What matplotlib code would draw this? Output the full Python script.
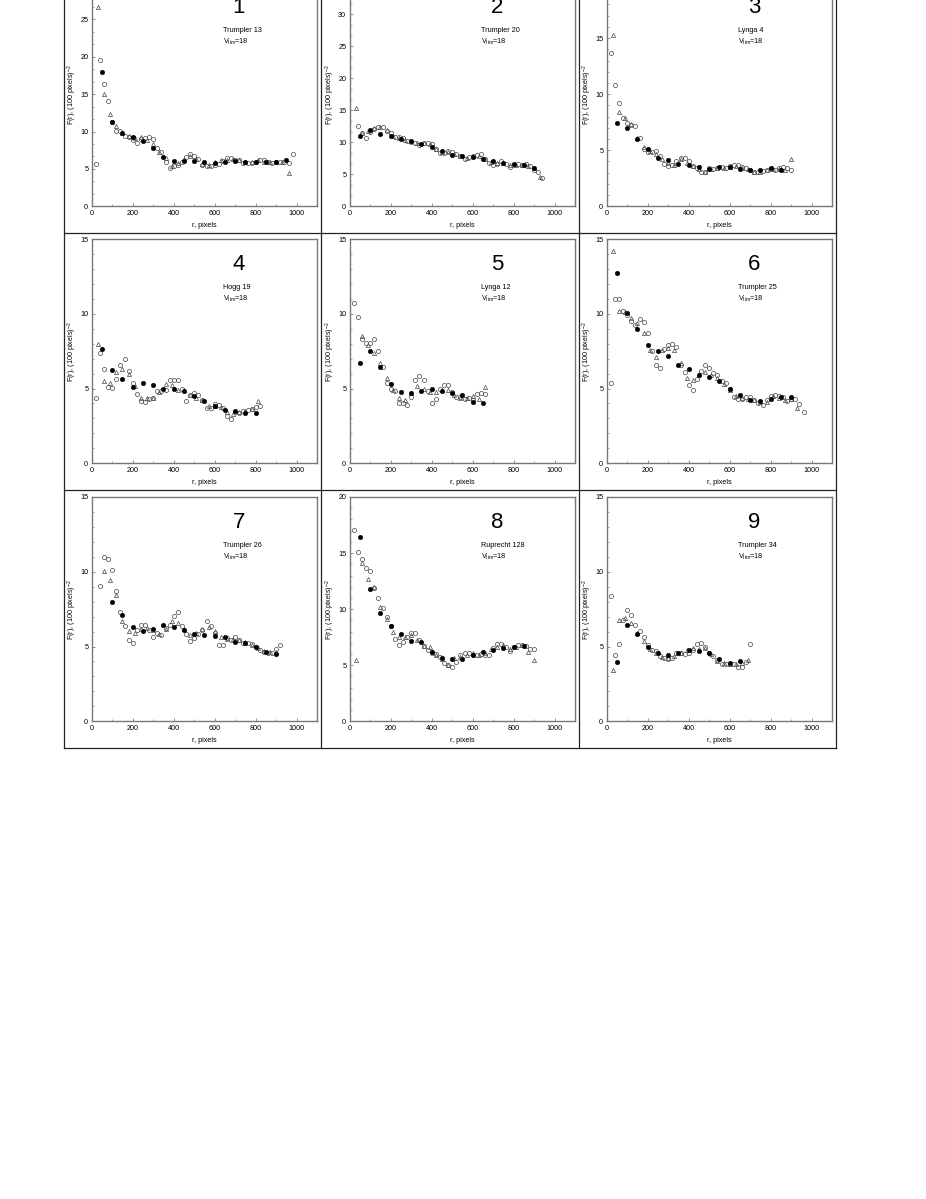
import matplotlib
matplotlib.use("Agg")
import matplotlib.pyplot as plt
from matplotlib.ticker import MultipleLocator, AutoMinorLocator
from matplotlib.lines import Line2D

plt.rcParams['font.family'] = ['Liberation Sans', 'DejaVu Sans']
plt.rcParams['mathtext.default'] = 'regular'

# ---------------- data ----------------
names = ["Trumpler 13", "Trumpler 20", "Lynga 4", "Hogg 19", "Lynga 12",
         "Trumpler 25", "Trumpler 26", "Ruprecht 128", "Trumpler 34"]
panel_numbers = ["1", "2", "3", "4", "5", "6", "7", "8", "9"]
y_max = [30, 35, 20, 15, 15, 15, 15, 20, 15]
vlim_text = "V$_{lim}$=18"

# Panel 1 - Trumpler 13
p1_filled_r = [50, 100, 150, 200, 250, 300, 350, 400, 450, 500, 550, 600, 650, 700, 750, 800, 850, 900, 950]
p1_filled_f = [17.9, 11.25, 9.8, 9.25, 8.8, 7.75, 6.65, 6.0, 6.05, 6.1, 5.9, 5.8, 5.92, 6.1, 5.96, 5.92, 5.92, 5.87, 6.18]
p1_open_r = [20, 40, 60, 80, 100, 120, 140, 160, 180, 200, 220, 240, 260, 280, 300, 320, 340, 360, 380, 400,
             420, 440, 460, 480, 500, 520, 540, 560, 580, 600, 620, 640, 660, 680, 700, 720, 740, 760, 780, 800,
             820, 840, 860, 880, 900, 920, 940, 960, 980]
p1_open_f = [5.7, 19.6, 16.3, 14.06, 11.3, 10.05, 10.05, 9.34, 9.25, 8.9,
             8.45, 9.0, 9.07, 9.25, 9.0, 7.83, 7.2, 5.87, 5.16, 5.34,
             5.52, 5.96, 6.58, 7.03, 6.76, 6.32, 5.52, 5.34, 5.34, 5.52,
             5.7, 6.05, 6.4, 6.5, 6.23, 6.14, 5.78, 5.78, 5.78, 5.96,
             6.23, 6.14, 5.96, 5.78, 5.87, 5.87, 5.96, 5.78, 6.94]
p1_tri_r = [30, 60, 90, 120, 150, 180, 210, 240, 270, 300, 330, 360, 390, 420, 450, 480, 510, 540, 570, 600,
            630, 660, 690, 720, 750, 780, 810, 840, 870, 900, 930, 960]
p1_tri_f = [26.7, 15.0, 12.37, 10.77, 9.79, 9.34, 9.07, 9.25, 8.9, 8.27,
            7.2, 6.5, 5.34, 5.78, 6.32, 6.76, 6.32, 5.7, 5.52, 5.87,
            6.14, 6.14, 6.32, 6.14, 5.96, 5.96, 6.23, 5.96, 5.96, 5.87, 5.87, 4.45]

# Panel 2 - Trumpler 20
p2_filled_r = [50, 100, 150, 200, 250, 300, 350, 400, 450, 500, 550, 600, 650, 700, 750, 800, 850, 900]
p2_filled_f = [11.0, 11.9, 11.3, 11.0, 10.45, 10.2, 9.78, 9.26, 8.64, 8.0, 7.86, 7.66, 7.45, 7.04, 6.73, 6.62, 6.4, 6.0]
p2_open_r = [40, 60, 80, 100, 120, 140, 160, 180, 200, 220, 240, 260, 280, 300, 320, 340, 360, 380, 400,
             420, 440, 460, 480, 500, 520, 540, 560, 580, 600, 620, 640, 660, 680, 700, 720, 740, 760, 780, 800,
             820, 840, 860, 880, 900, 920, 940]
p2_open_f = [12.6, 11.4, 10.6, 11.6, 12.0, 12.4, 12.3, 11.7, 11.4,
             10.76, 10.76, 10.6, 10.24, 10.1, 9.93, 9.6, 9.83, 9.83, 9.73,
             8.95, 8.28, 8.38, 8.59, 8.48, 8.12, 7.86, 7.45, 7.76, 7.86,
             7.97, 8.17, 7.35, 6.73, 6.52, 6.62, 7.14, 6.62, 6.1, 6.4,
             6.62, 6.47, 6.62, 6.26, 5.69, 5.33, 4.45]
p2_tri_r = [30, 60, 90, 120, 150, 180, 210, 240, 270, 300, 330, 360, 390, 420, 450, 480, 510, 540, 570, 600,
            630, 660, 690, 720, 750, 780, 810, 840, 870, 900, 930]
p2_tri_f = [15.3, 11.5, 11.7, 12.2, 12.3, 11.9, 11.0, 10.6, 10.4, 10.2,
            9.8, 9.8, 9.7, 9.0, 8.5, 8.5, 8.2, 7.8, 7.6, 7.8,
            7.9, 7.4, 6.9, 6.8, 6.8, 6.5, 6.5, 6.5, 6.3, 5.9, 4.6]

# Panel 3 - Lynga 4
p3_filled_r = [50, 100, 150, 200, 250, 300, 350, 400, 450, 500, 550, 600, 650, 700, 750, 800, 850]
p3_filled_f = [7.47, 6.94, 5.99, 5.13, 4.33, 4.09, 3.8, 3.68, 3.47, 3.35, 3.47, 3.53, 3.35, 3.26, 3.2, 3.38, 3.23]
p3_open_r = [20, 40, 60, 80, 100, 120, 140, 160, 180, 200, 220, 240, 260, 280, 300, 320, 340, 360, 380, 400,
             420, 440, 460, 480, 500, 520, 540, 560, 580, 600, 620, 640, 660, 680, 700, 720, 740, 760, 780, 800,
             820, 840, 860, 880, 900]
p3_open_f = [13.7, 10.8, 9.25, 7.9, 7.41, 7.29, 7.17, 6.05, 5.1, 4.8,
             4.86, 4.92, 4.5, 3.8, 3.62, 3.68, 4.03, 4.33, 4.27, 4.03,
             3.62, 3.38, 3.08, 3.02, 3.38, 3.32, 3.44, 3.5, 3.44, 3.56,
             3.68, 3.68, 3.5, 3.44, 3.2, 3.08, 3.08, 3.14, 3.26, 3.32,
             3.26, 3.38, 3.5, 3.44, 3.2]
p3_tri_r = [30, 60, 90, 120, 150, 180, 210, 240, 270, 300, 330, 360, 390, 420, 450, 480, 510, 540, 570, 600,
            630, 660, 690, 720, 750, 780, 810, 840, 870, 900]
p3_tri_f = [15.3, 8.4, 7.9, 7.3, 6.1, 5.3, 4.9, 4.7, 4.2, 3.9,
            3.7, 4.2, 3.9, 3.6, 3.3, 3.1, 3.3, 3.4, 3.4, 3.5,
            3.6, 3.4, 3.3, 3.1, 3.1, 3.2, 3.3, 3.3, 3.2, 4.2]

# Panel 4 - Hogg 19
p4_filled_r = [50, 100, 150, 200, 250, 300, 350, 400, 450, 500, 550, 600, 650, 700, 750, 800]
p4_filled_f = [7.67, 6.24, 5.66, 5.08, 5.39, 5.21, 4.95, 4.95, 4.81, 4.5, 4.15, 3.83, 3.54, 3.48, 3.34, 3.34]
p4_open_r = [20, 40, 60, 80, 100, 120, 140, 160, 180, 200, 220, 240, 260, 280, 300, 320, 340, 360, 380, 400,
             420, 440, 460, 480, 500, 520, 540, 560, 580, 600, 620, 640, 660, 680, 700, 720, 740, 760, 780, 800, 820]
p4_open_f = [4.37, 7.4, 6.28, 5.13, 5.04, 5.66, 6.6, 7.0, 6.15, 5.35,
             4.61, 4.17, 4.1, 4.28, 4.37, 4.81, 4.81, 4.9, 5.57, 5.57,
             5.57, 4.99, 4.15, 4.55, 4.68, 4.59, 4.23, 3.7, 3.7, 3.97,
             3.88, 3.7, 3.16, 2.99, 3.43, 3.39, 3.52, 3.57, 3.65, 3.74, 3.83]
p4_tri_r = [30, 60, 90, 120, 150, 180, 210, 240, 270, 300, 330, 360, 390, 420, 450, 480, 510, 540, 570, 600,
            630, 660, 690, 720, 750, 780, 810]
p4_tri_f = [8.0, 5.5, 5.35, 6.1, 6.3, 6.0, 5.2, 4.35, 4.35, 4.4,
            4.8, 5.3, 5.25, 4.9, 4.9, 4.55, 4.35, 4.2, 3.85, 3.85,
            3.75, 3.45, 3.3, 3.4, 3.5, 3.6, 4.15]

# Panel 5 - Lynga 12
p5_filled_r = [50, 100, 150, 200, 250, 300, 350, 400, 450, 500, 550, 600, 650]
p5_filled_f = [6.73, 7.53, 6.46, 5.3, 4.77, 4.72, 4.86, 4.99, 4.81, 4.68, 4.55, 4.1, 4.01]
p5_open_r = [20, 40, 60, 80, 100, 120, 140, 160, 180, 200, 220, 240, 260, 280, 300, 320, 340, 360, 380, 400,
             420, 440, 460, 480, 500, 520, 540, 560, 580, 600, 620, 640, 660]
p5_open_f = [10.7, 9.8, 8.29, 8.02, 8.02, 8.34, 7.49, 6.46, 5.39, 4.99,
             4.81, 4.06, 4.06, 3.88, 4.41, 5.57, 5.84, 5.57, 4.81, 4.01,
             4.32, 4.99, 5.21, 5.21, 4.77, 4.46, 4.41, 4.28, 4.37, 4.23,
             4.64, 4.72, 4.64]
p5_tri_r = [60, 90, 120, 150, 180, 210, 240, 270, 300, 330, 360, 390, 420, 450, 480, 510, 540, 570, 600, 630, 660]
p5_tri_f = [8.5, 7.9, 7.4, 6.7, 5.7, 4.9, 4.4, 4.2, 4.7, 5.2,
            5.0, 4.8, 4.8, 4.9, 4.9, 4.6, 4.4, 4.4, 4.5, 4.3, 5.1]

# Panel 6 - Trumpler 25
p6_filled_r = [50, 100, 150, 200, 250, 300, 350, 400, 450, 500, 550, 600, 650, 700, 750, 800, 850, 900]
p6_filled_f = [12.7, 10.03, 8.96, 7.89, 7.53, 7.18, 6.6, 6.28, 5.93, 5.79, 5.53, 4.99, 4.55, 4.23, 4.19, 4.32, 4.41, 4.46]
p6_open_r = [20, 40, 60, 80, 100, 120, 140, 160, 180, 200, 220, 240, 260, 280, 300, 320, 340, 360, 380, 400,
             420, 440, 460, 480, 500, 520, 540, 560, 580, 600, 620, 640, 660, 680, 700, 720, 740, 760, 780, 800,
             820, 840, 860, 880, 900, 920, 940, 960]
p6_open_f = [5.35, 11.0, 10.96, 10.2, 9.94, 9.49, 9.23, 9.63, 9.45, 8.74,
             7.53, 6.55, 6.37, 7.67, 7.89, 7.98, 7.8, 6.6, 6.1, 5.21,
             4.9, 5.62, 6.15, 6.6, 6.37, 6.02, 5.93, 5.53, 5.35, 4.95,
             4.46, 4.32, 4.32, 4.46, 4.41, 4.23, 4.01, 3.88, 4.23, 4.5,
             4.55, 4.5, 4.46, 4.19, 4.32, 4.32, 3.97, 3.43]
p6_tri_r = [30, 60, 90, 120, 150, 180, 210, 240, 270, 300, 330, 360, 390, 420, 450, 480, 510, 540, 570, 600,
            630, 660, 690, 720, 750, 780, 810, 840, 870, 900, 930]
p6_tri_f = [14.2, 10.2, 10.1, 9.7, 9.4, 8.7, 7.6, 7.1, 7.6, 7.7,
            7.6, 6.7, 5.7, 5.6, 6.0, 6.1, 5.9, 5.7, 5.3, 4.9,
            4.5, 4.4, 4.3, 4.2, 4.1, 4.1, 4.5, 4.4, 4.2, 4.3, 3.7]

# Panel 7 - Trumpler 26
p7_filled_r = [100, 150, 200, 250, 300, 350, 400, 450, 500, 550, 600, 650, 700, 750, 800, 850, 900]
p7_filled_f = [7.95, 7.13, 6.3, 6.06, 6.15, 6.44, 6.28, 6.08, 5.84, 5.79, 5.73, 5.66, 5.33, 5.26, 4.99, 4.63, 4.5]
p7_open_r = [40, 60, 80, 100, 120, 140, 160, 180, 200, 220, 240, 260, 280, 300, 320, 340, 360, 380, 400,
             420, 440, 460, 480, 500, 520, 540, 560, 580, 600, 620, 640, 660, 680, 700, 720, 740, 760, 780, 800,
             820, 840, 860, 880, 900, 920]
p7_open_f = [9.04, 11.0, 10.83, 10.11, 8.69, 7.31, 6.37, 5.44, 5.26, 6.1,
             6.46, 6.46, 6.1, 5.66, 5.93, 5.75, 6.24, 6.42, 7.04, 7.31,
             6.37, 5.84, 5.35, 5.57, 5.84, 6.1, 6.68, 6.37, 5.88, 5.12,
             5.08, 5.57, 5.44, 5.66, 5.44, 5.21, 5.21, 5.17, 4.99, 4.77,
             4.63, 4.59, 4.59, 4.81, 5.08]
p7_tri_r = [60, 90, 120, 150, 180, 210, 240, 270, 300, 330, 360, 390, 420, 450, 480, 510, 540, 570, 600,
            630, 660, 690, 720, 750, 780, 810, 840, 870, 900]
p7_tri_f = [10.02, 9.45, 8.42, 6.68, 6.02, 5.93, 6.15, 6.24, 6.1, 5.84,
            6.15, 6.73, 6.55, 6.15, 5.75, 5.88, 6.15, 6.28, 6.02, 5.66,
            5.53, 5.53, 5.44, 5.3, 5.12, 4.9, 4.68, 4.63, 4.63]

# Panel 8 - Ruprecht 128
p8_filled_r = [50, 100, 150, 200, 250, 300, 350, 400, 450, 500, 550, 600, 650, 700, 750, 800, 850]
p8_filled_f = [16.45, 11.76, 9.7, 8.5, 7.75, 7.2, 7.07, 6.2, 5.67, 5.52, 5.55, 5.9, 6.15, 6.36, 6.54, 6.6, 6.71]
p8_open_r = [20, 40, 60, 80, 100, 120, 140, 160, 180, 200, 220, 240, 260, 280, 300, 320, 340, 360, 380, 400,
             420, 440, 460, 480, 500, 520, 540, 560, 580, 600, 620, 640, 660, 680, 700, 720, 740, 760, 780, 800,
             820, 840, 860, 880, 900]
p8_open_f = [17.06, 15.06, 14.47, 13.7, 13.4, 11.9, 11.0, 10.07, 9.27, 8.5,
             7.3, 6.77, 7.06, 7.48, 7.9, 7.9, 7.25, 6.71, 6.36, 6.12,
             6.0, 5.7, 5.23, 4.99, 4.81, 5.26, 5.88, 6.06, 6.06, 5.94,
             5.88, 6.0, 5.94, 5.94, 6.53, 6.89, 6.89, 6.65, 6.3, 6.65,
             6.77, 6.83, 6.71, 6.47, 6.47]
p8_tri_r = [30, 60, 90, 120, 150, 180, 210, 240, 270, 300, 330, 360, 390, 420, 450, 480, 510, 540, 570, 600,
            630, 660, 690, 720, 750, 780, 810, 840, 870, 900]
p8_tri_f = [5.44, 14.15, 12.69, 12.0, 10.2, 9.15, 7.96, 7.48, 7.5, 7.66,
            7.25, 6.71, 6.65, 5.94, 5.52, 5.05, 5.64, 5.76, 5.94, 6.06,
            5.88, 6.06, 6.47, 6.65, 6.77, 6.47, 6.65, 6.77, 6.18, 5.47]

# Panel 9 - Trumpler 34
p9_filled_r = [50, 100, 150, 200, 250, 300, 350, 400, 450, 500, 550, 600, 650]
p9_filled_f = [3.97, 6.46, 5.84, 4.99, 4.59, 4.41, 4.59, 4.77, 4.68, 4.55, 4.15, 3.92, 4.01]
p9_open_r = [20, 40, 60, 80, 100, 120, 140, 160, 180, 200, 220, 240, 260, 280, 300, 320, 340, 360, 380, 400,
             420, 440, 460, 480, 500, 520, 540, 560, 580, 600, 620, 640, 660, 680, 700]
p9_open_f = [8.4, 4.45, 5.2, 6.75, 7.42, 7.11, 6.44, 6.02, 5.66, 5.1,
             4.77, 4.68, 4.4, 4.2, 4.15, 4.25, 4.55, 4.55, 4.5, 4.6,
             4.8, 5.2, 5.25, 5.0, 4.55, 4.35, 4.1, 3.85, 3.8, 3.85,
             3.8, 3.65, 3.65, 3.95, 5.2]
p9_tri_r = [30, 60, 90, 120, 150, 180, 210, 240, 270, 300, 330, 360, 390, 420, 450, 480, 510, 540, 570, 600,
            630, 660, 690]
p9_tri_f = [3.45, 6.8, 6.9, 6.6, 5.9, 5.35, 4.85, 4.6, 4.3, 4.2,
            4.4, 4.6, 4.8, 4.9, 4.85, 4.9, 4.5, 4.05, 3.9, 3.85,
            3.8, 3.9, 4.1]

panels = [
    (p1_filled_r, p1_filled_f, p1_open_r, p1_open_f, p1_tri_r, p1_tri_f),
    (p2_filled_r, p2_filled_f, p2_open_r, p2_open_f, p2_tri_r, p2_tri_f),
    (p3_filled_r, p3_filled_f, p3_open_r, p3_open_f, p3_tri_r, p3_tri_f),
    (p4_filled_r, p4_filled_f, p4_open_r, p4_open_f, p4_tri_r, p4_tri_f),
    (p5_filled_r, p5_filled_f, p5_open_r, p5_open_f, p5_tri_r, p5_tri_f),
    (p6_filled_r, p6_filled_f, p6_open_r, p6_open_f, p6_tri_r, p6_tri_f),
    (p7_filled_r, p7_filled_f, p7_open_r, p7_open_f, p7_tri_r, p7_tri_f),
    (p8_filled_r, p8_filled_f, p8_open_r, p8_open_f, p8_tri_r, p8_tri_f),
    (p9_filled_r, p9_filled_f, p9_open_r, p9_open_f, p9_tri_r, p9_tri_f),
]

# ---------------- layout (pixels) ----------------
W, H = 926, 1199
fig = plt.figure(figsize=(W / 100, H / 100), dpi=100)
fig.patch.set_facecolor("white")

col_left = [91.7, 349.7, 606.7]
row_top = [-18.0, 239.0, 497.0]
ax_w, ax_h = 225.5, 224.3

for i, (fr, ff, orr, of, tr, tf) in enumerate(panels):
    row, col = divmod(i, 3)
    l, t = col_left[col], row_top[row]
    ax = fig.add_axes([l / W, 1 - (t + ax_h) / H, ax_w / W, ax_h / H])
    ax.plot(orr, of, linestyle="none", marker="o", ms=3.0, mfc="none", mec="#555555", mew=0.55)
    ax.plot(tr, tf, linestyle="none", marker="^", ms=3.0, mfc="none", mec="#555555", mew=0.55)
    ax.plot(fr, ff, linestyle="none", marker="o", ms=3.3, mfc="black", mec="black", mew=0.3)
    ax.set_xlim(0, 1100)
    ax.set_ylim(0, y_max[i])
    ax.xaxis.set_major_locator(MultipleLocator(200))
    ax.xaxis.set_minor_locator(MultipleLocator(100))
    ax.yaxis.set_major_locator(MultipleLocator(5))
    ax.yaxis.set_minor_locator(AutoMinorLocator(3 if y_max[i] >= 30 else 5))
    ax.tick_params(which="both", direction="in", labelsize=5.2, pad=2.5, color="#666666")
    ax.tick_params(which="major", length=2.5, width=0.5)
    ax.tick_params(which="minor", length=1.5, width=0.4)
    for s in ax.spines.values():
        s.set_color("#777777")
        s.set_linewidth(1.0)
    ax.set_xlabel("r, pixels", fontsize=5.2, labelpad=4)
    ax.set_ylabel("F(r), (100 pixels)$^{-2}$", fontsize=5.2, labelpad=0.5)
    ax.text(0.653, 0.885, panel_numbers[i], transform=ax.transAxes, fontsize=16,
            ha="center", va="center")
    ax.text(0.583, 0.784, names[i], transform=ax.transAxes, fontsize=5.2,
            ha="left", va="center")
    ax.text(0.583, 0.735, vlim_text, transform=ax.transAxes, fontsize=5.2,
            ha="left", va="center")

# cell borders
vx = [64, 321, 579, 836]
hy = [233, 490, 748]
for x in vx:
    fig.add_artist(Line2D([x / W, x / W], [1 + 30 / H, 1 - 748 / H],
                          transform=fig.transFigure, color="#222222", lw=0.9))
for y in hy:
    fig.add_artist(Line2D([64 / W, 836 / W], [1 - y / H, 1 - y / H],
                          transform=fig.transFigure, color="#222222", lw=0.9))

fig.savefig("out.png", dpi=100, facecolor="white")
